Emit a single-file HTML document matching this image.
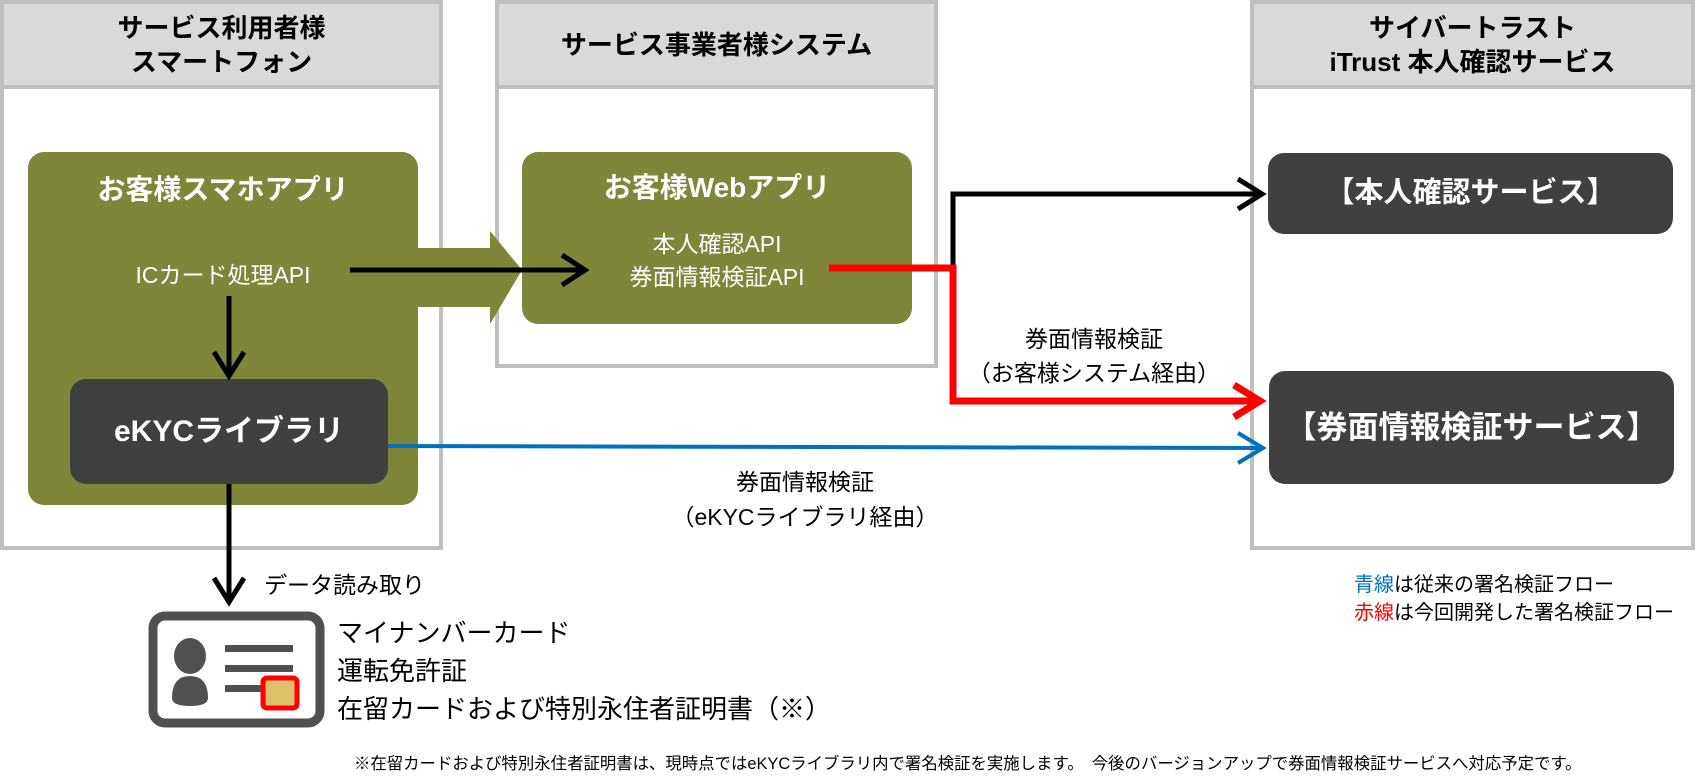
<!DOCTYPE html>
<html><head><meta charset="utf-8"><style>
body{margin:0;width:1698px;height:782px;background:#fff;position:relative;overflow:hidden;font-family:"Liberation Sans","Noto Sans CJK JP",sans-serif}
.a{position:absolute}
.col{position:absolute;border:4px solid #bfbfbf;box-sizing:border-box;background:#fff}
.hd{position:absolute;left:0;right:0;top:0;height:81px;background:#d9d9d9;border-bottom:4px solid #bfbfbf;display:flex;align-items:center;justify-content:center;text-align:center;font-weight:bold;font-size:26px;line-height:34px;color:#000}
.box{position:absolute;border-radius:16px;color:#fff;text-align:center;box-sizing:border-box}
.t{position:absolute;white-space:nowrap;color:#000}
</style></head><body>
<div class="col" style="left:0;top:0;width:443px;height:550px"><div class="hd">サービス利用者様<br>スマートフォン</div></div>
<div class="col" style="left:495px;top:0;width:443px;height:368px"><div class="hd">サービス事業者様システム</div></div>
<div class="col" style="left:1250px;top:0;width:445px;height:550px"><div class="hd">サイバートラスト<br>iTrust 本人確認サービス</div></div>

<div class="box" style="left:28px;top:152px;width:390px;height:353px;background:#808639"></div>
<div class="t" style="left:28px;top:168px;width:390px;text-align:center;color:#fff;font-weight:bold;font-size:28px">お客様スマホアプリ</div>
<div class="t" style="left:28px;top:256px;width:390px;text-align:center;color:#fff;font-size:23px">ICカード処理API</div>
<div class="box" style="left:70px;top:379px;width:318px;height:105px;background:#404040;font-weight:bold;font-size:30px;line-height:105px">eKYCライブラリ</div>

<div class="box" style="left:522px;top:152px;width:390px;height:172px;background:#808639"></div>
<div class="t" style="left:522px;top:166px;width:390px;text-align:center;color:#fff;font-weight:bold;font-size:28px">お客様Webアプリ</div>
<div class="t" style="left:522px;top:228px;width:390px;text-align:center;color:#fff;font-size:23px;line-height:33px">本人確認API<br>券面情報検証API</div>

<div class="box" style="left:1268px;top:153px;width:405px;height:81px;background:#404040;font-weight:bold;font-size:29px;line-height:81px">【本人確認サービス】</div>
<div class="box" style="left:1269px;top:371px;width:405px;height:113px;background:#404040;font-weight:bold;font-size:31px;line-height:113px">【券面情報検証サービス】</div>

<svg class="a" style="left:0;top:0" width="1698" height="782">
<polygon points="418,248 490,248 490,231 522,270 490,324 490,307 418,307" fill="#808639"/>
<g fill="none" stroke="#000" stroke-width="5">
<line x1="350" y1="270" x2="584" y2="270"/><polyline points="562,255 585,270 562,285"/>
<line x1="229" y1="296" x2="229" y2="374"/><polyline points="214,352 229,376 244,352"/>
<line x1="229" y1="484" x2="229" y2="600"/><polyline points="214,578 229,602 244,578"/>
<polyline points="953,268 953,194 1260,194"/><polyline points="1238,179 1262,194 1238,209"/>
</g>
<g fill="none" stroke="#ff0000" stroke-width="7">
<polyline points="829,268 953,268 953,401 1258,401"/><polyline points="1234,385 1260,401 1234,417"/>
</g>
<g fill="none" stroke="#0070c0" stroke-width="4">
<line x1="388" y1="446" x2="1262" y2="448"/><polyline points="1238,433 1263,448 1238,463"/>
</g>
<rect x="153" y="616" width="167" height="107" rx="12" fill="#fff" stroke="#505050" stroke-width="9"/>
<ellipse cx="190" cy="656" rx="16" ry="18" fill="#505050"/>
<path d="M172 698 q0 -22 18 -22 q18 0 18 22 q0 8 -18 8 q-18 0 -18 -8z" fill="#505050"/>
<rect x="225" y="645" width="68" height="7" fill="#505050"/>
<rect x="225" y="665" width="68" height="7" fill="#505050"/>
<rect x="225" y="685" width="40" height="7" fill="#505050"/>
<rect x="263" y="678" width="34" height="30" rx="4" fill="#dfc06b" stroke="#f00" stroke-width="5"/>
</svg>

<div class="t" style="left:954px;top:322px;width:280px;text-align:center;font-size:23px;line-height:34px">券面情報検証<br>（お客様システム経由）</div>
<div class="t" style="left:655px;top:465px;width:300px;text-align:center;font-size:23px;line-height:35px">券面情報検証<br>（eKYCライブラリ経由）</div>
<div class="t" style="left:264px;top:566px;font-size:23px">データ読み取り</div>
<div class="t" style="left:337px;top:614px;font-size:26px;line-height:38px">マイナンバーカード<br>運転免許証<br>在留カードおよび特別永住者証明書（※）</div>
<div class="t" style="left:1354px;top:571px;font-size:20px;line-height:28px"><span style="color:#0070c0">青線</span>は従来の署名検証フロー<br><span style="color:#f00">赤線</span>は今回開発した署名検証フロー</div>
<div class="t" style="left:354px;top:750px;font-size:16.4px">※在留カードおよび特別永住者証明書は、現時点ではeKYCライブラリ内で署名検証を実施します。　今後のバージョンアップで券面情報検証サービスへ対応予定です。</div>
</body></html>
